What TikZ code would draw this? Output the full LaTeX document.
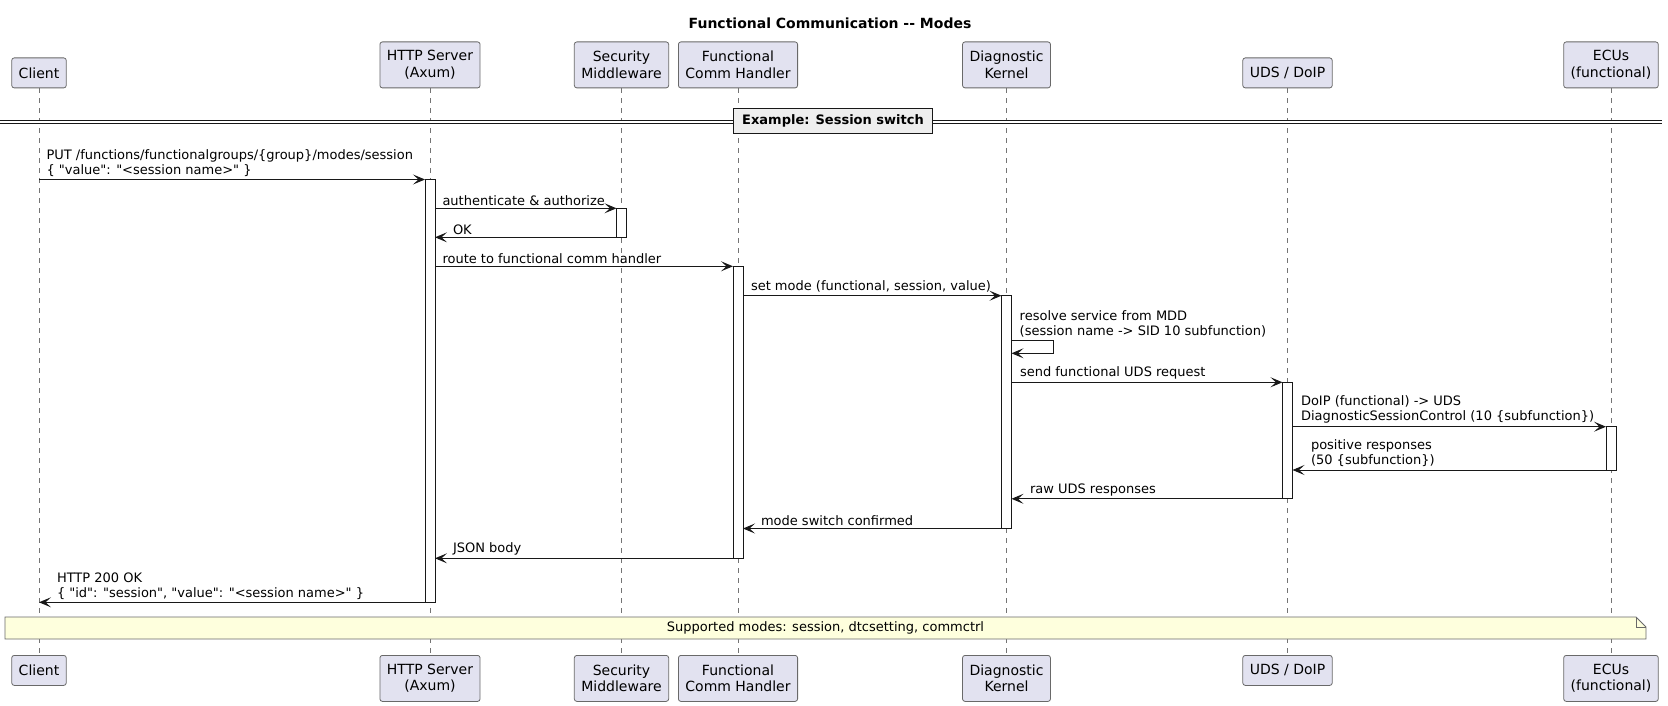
\documentclass[tikz,border=0pt]{standalone}
\usepackage{fontspec}
\setmainfont{DejaVu Sans}[Ligatures=TeXOff]
\usetikzlibrary{arrows.meta}

\definecolor{partfill}{HTML}{E2E2F0}
\definecolor{linecol}{HTML}{181818}
\definecolor{notefill}{HTML}{FEFFDD}
\definecolor{sepfill}{HTML}{EEEEEE}

\tikzset{
  part/.style={draw=linecol!65, fill=partfill, line width=0.8pt, rounded corners=2.5pt,
    inner xsep=7pt, inner ysep=0pt, align=center, minimum height=30pt,
    font=\fontsize{14}{16.5}\selectfont},
  tall/.style={minimum height=46pt},
  life/.style={draw=linecol!60, line width=0.6pt, dash pattern=on 5pt off 5pt},
  act/.style={draw=linecol, fill=white, line width=0.8pt, minimum width=10pt,
    inner sep=0pt, outer sep=0pt, anchor=north},
  msg/.style={draw=linecol, line width=1pt, -{Stealth[length=12pt,width=10pt,inset=5.5pt]}},
  lbl/.style={inner sep=0pt, align=left, anchor=south west, yshift=2.5pt,
    font=\fontsize{13}{15}\selectfont},
}

\begin{document}
\begin{tikzpicture}[x=1pt,y=-1pt]
\useasboundingbox (0,0) rectangle (1668,706);

% Title
\node[font=\bfseries\fontsize{14}{16}\selectfont] (title) at (830,23) {Functional Communication -- Modes};

% Participants (top)
\node[part, anchor=south] (cliT) at (39,88.3) {Client};
\node[part, tall, anchor=south] (srvT) at (430,88.3) {HTTP Server\\(Axum)};
\node[part, tall, anchor=south] (secT) at (621.5,88.3) {Security\\Middleware};
\node[part, tall, anchor=south] (funT) at (738,88.3) {Functional\\Comm Handler};
\node[part, tall, anchor=south] (kerT) at (1006.5,88.3) {Diagnostic\\Kernel};
\node[part, anchor=south] (udsT) at (1287.5,88.3) {UDS / DoIP};
\node[part, tall, anchor=south] (ecuT) at (1611,88.3) {ECUs\\(functional)};

% Participants (bottom)
\node[part, anchor=north] (cliB) at (39,655) {Client};
\node[part, tall, anchor=north] (srvB) at (430,655) {HTTP Server\\(Axum)};
\node[part, tall, anchor=north] (secB) at (621.5,655) {Security\\Middleware};
\node[part, tall, anchor=north] (funB) at (738,655) {Functional\\Comm Handler};
\node[part, tall, anchor=north] (kerB) at (1006.5,655) {Diagnostic\\Kernel};
\node[part, anchor=north] (udsB) at (1287.5,655) {UDS / DoIP};
\node[part, tall, anchor=north] (ecuB) at (1611,655) {ECUs\\(functional)};

% Lifelines
\draw[life] (cliT) -- (cliB);
\draw[life] (srvT) -- (srvB);
\draw[life] (secT) -- (secB);
\draw[life] (funT) -- (funB);
\draw[life] (kerT) -- (kerB);
\draw[life] (udsT) -- (udsB);
\draw[life] (ecuT) -- (ecuB);

% Separator
\coordinate (sepL) at (0,122);
\coordinate (sepR) at (1662,122);
\draw[linecol, double, double distance=1.6pt, line width=1pt] (sepL) -- (sepR);
\node[fill=sepfill, draw=linecol, line width=1.5pt, minimum width=199pt, minimum height=25pt,
  inner sep=0pt, font=\bfseries\fontsize{13}{15}\selectfont] (sep) at (833,121.2) {Example: Session switch};

% Activation bars
\node[act, minimum height=422.8pt] (aSrv) at (430,179.5) {};
\node[act, minimum height=29pt] (aSec) at (621.5,208.3) {};
\node[act, minimum height=292pt] (aFun) at (738,266.3) {};
\node[act, minimum height=232.8pt] (aKer) at (1006.5,295.7) {};
\node[act, minimum height=116.5pt] (aUds) at (1287.5,382.3) {};
\node[act, minimum height=43.3pt] (aEcu) at (1611,426.7) {};

% Messages
\draw[msg] (cliT |- aSrv.north) -- (aSrv.north west)
  node[lbl, pos=0, xshift=7pt] (m1) {PUT /functions/functionalgroups/\{group\}/modes/session\\\{ "value": "<session name>" \}};
\draw[msg] (aSrv.east |- aSec.north) -- (aSec.north west)
  node[lbl, pos=0, xshift=7pt] (m2) {authenticate \& authorize};
\draw[msg] (aSec.south west) -- (aSrv.east |- aSec.south)
  node[lbl, pos=1, xshift=17.5pt] (m3) {OK};
\draw[msg] (aSrv.east |- aFun.north) -- (aFun.north west)
  node[lbl, pos=0, xshift=7pt] (m4) {route to functional comm handler};
\draw[msg] (aFun.east |- aKer.north) -- (aKer.north west)
  node[lbl, pos=0, xshift=7.5pt] (m5) {set mode (functional, session, value)};

% self call on the kernel
\draw[msg] (aKer.east |- 0,340.3) -- ++(42,0) -- ++(0,13) -- (aKer.east |- 0,353.3);
\node[lbl] (m6) at (1019.5,340.3) {resolve service from MDD\\(session name -> SID 10 subfunction)};

\draw[msg] (aKer.east |- aUds.north) -- (aUds.north west)
  node[lbl, pos=0, xshift=8pt] (m7) {send functional UDS request};
\draw[msg] (aUds.east |- aEcu.north) -- (aEcu.north west)
  node[lbl, pos=0, xshift=8pt] (m8) {DoIP (functional) -> UDS\\DiagnosticSessionControl (10 \{subfunction\})};
\draw[msg] (aEcu.south west) -- (aUds.east |- aEcu.south)
  node[lbl, pos=1, xshift=18pt] (m9) {positive responses\\(50 \{subfunction\})};
\draw[msg] (aUds.south west) -- (aKer.east |- aUds.south)
  node[lbl, pos=1, xshift=18pt] (m10) {raw UDS responses};
\draw[msg] (aKer.south west) -- (aFun.east |- aKer.south)
  node[lbl, pos=1, xshift=17.5pt] (m11) {mode switch confirmed};
\draw[msg] (aFun.south west) -- (aSrv.east |- aFun.south)
  node[lbl, pos=1, xshift=17.5pt] (m12) {JSON body};
\draw[msg] (aSrv.south west) -- (cliT |- aSrv.south)
  node[lbl, pos=1, xshift=17.5pt] (m13) {HTTP 200 OK\\\{ "id": "session", "value": "<session name>" \}};

% Note
\draw[draw=linecol!65, fill=notefill, line width=0.8pt]
  (5,617) -- (1636,617) -- (1646,627) -- (1646,639) -- (5,639) -- cycle;
\draw[draw=linecol!65, line width=0.8pt] (1636,617) -- (1636,627) -- (1646,627);
\node[font=\fontsize{13}{15}\selectfont] (note) at (825.5,628) {Supported modes: session, dtcsetting, commctrl};
\end{tikzpicture}
\end{document}
